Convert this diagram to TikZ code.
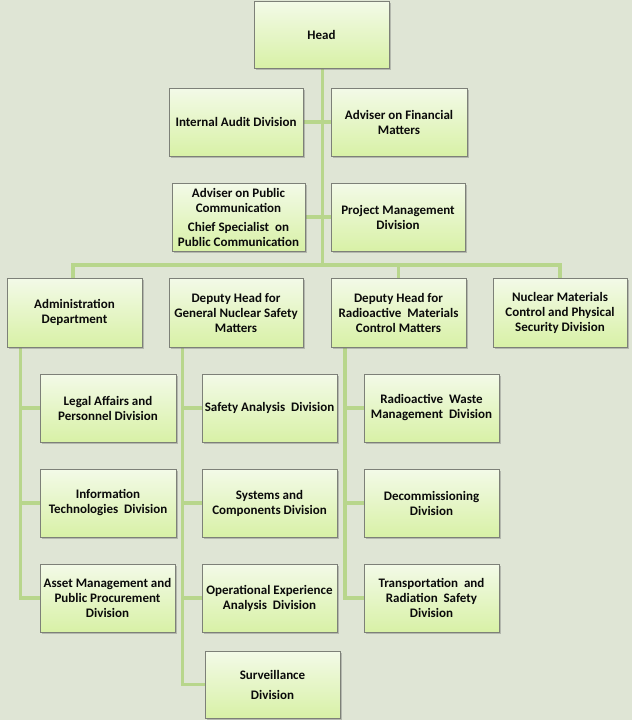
\documentclass[tikz,border=0pt]{standalone}
\usepackage{fontspec}
\setmainfont{Carlito}
\usetikzlibrary{shadows,backgrounds}
\definecolor{bgc}{RGB}{223,229,213}
\definecolor{linec}{RGB}{184,214,140}
\definecolor{boxtop}{RGB}{243,250,232}
\definecolor{boxbot}{RGB}{216,241,166}
\definecolor{boxborder}{RGB}{125,128,120}
\definecolor{txt}{RGB}{10,10,10}
\begin{document}
\begin{tikzpicture}[x=1pt,y=-1pt,
  orgbox/.style={draw=boxborder, line width=0.9pt, top color=boxtop, bottom color=boxbot,
    drop shadow={shadow xshift=1.5pt, shadow yshift=-1.5pt, opacity=0.35, fill=black!60},
    align=center, inner sep=1pt, text=txt,
    font=\fontsize{13}{15}\selectfont\bfseries, minimum height=68pt},
  w134/.style={minimum width=134pt},
  w135/.style={minimum width=135pt},
  w136/.style={minimum width=136pt},
  conn/.style={draw=linec, line width=3.2pt}]
\useasboundingbox (0,0) rectangle (632,720);
% boxes
\node[orgbox, w135, minimum height=67pt] (head) at (321.5,34.5) {Head};
\node[orgbox, w134] (ia) at (236,122) {Internal Audit Division};
\node[orgbox, w136] (af) at (399,122) {Adviser on Financial\\Matters};
\node[orgbox, minimum width=133pt] (ap) at (238.5,217) {Adviser on Public\\Communication\\[4pt]Chief Specialist~ on\\Public Communication};
\node[orgbox, w134] (pm) at (398,217) {Project Management\\Division};
\node[orgbox, w135, minimum height=69pt] (adm) at (74.5,312.5) {Administration\\Department};
\node[orgbox, w134, minimum height=69pt] (dg) at (236,312.5) {Deputy Head for\\General Nuclear Safety\\Matters};
\node[orgbox, w135, minimum height=69pt] (dr) at (398.5,312.5) {Deputy Head for\\Radioactive~ Materials\\Control Matters};
\node[orgbox, w134, minimum height=69pt] (nm) at (560,312.5) {Nuclear Materials\\Control and Physical\\Security Division};
\node[orgbox, w136] (lg) at (108,408) {Legal Affairs and\\Personnel Division};
\node[orgbox, w136] (it) at (108,503) {Information\\Technologies~ Division};
\node[orgbox, w135] (as) at (107.5,598) {Asset Management and\\Public Procurement\\Division};
\node[orgbox, w135] (sa) at (269.5,408) {Safety Analysis~ Division};
\node[orgbox, w135] (sc) at (269.5,503) {Systems and\\Components Division};
\node[orgbox, w135] (oe) at (269.5,598) {Operational Experience\\Analysis~ Division};
\node[orgbox, w135, minimum height=67pt] (sv) at (272.5,684.5) {Surveillance\\[5pt]Division};
\node[orgbox, w135] (rw) at (431.5,408) {Radioactive~ Waste\\Management~ Division};
\node[orgbox, w135] (dc) at (431.5,503) {Decommissioning\\Division};
\node[orgbox, w135] (tr) at (431.5,598) {Transportation~ and\\Radiation~ Safety\\Division};
% connector anchors
\coordinate (trunk) at (322.7,265);
\coordinate (av) at (20.7,347);
\coordinate (gv) at (182.3,347);
\coordinate (rv) at (345,347);
\begin{scope}[on background layer]
\fill[bgc] (0,0) rectangle (632,720);
\draw[conn] (head.south -| trunk) -- (trunk);
\draw[conn] (ia.east) -- (af.west);
\draw[conn] (ap.east) -- (ap.east -| pm.west);
\draw[conn] (adm.north -| 73,0) |- (trunk) -| (nm.north);
\draw[conn] (dg.north -| 235,0) -- (dg.north -| 235,0 |- trunk);
\draw[conn] (dr.north) -- (dr.north |- trunk);
% administration branch
\draw[conn] (av |- adm.south) |- (as.west);
\draw[conn] (av |- lg.west) -- (lg.west);
\draw[conn] (av |- it.west) -- (it.west);
% general nuclear safety branch
\draw[conn] (gv |- dg.south) |- (sv.west);
\draw[conn] (gv |- sa.west) -- (sa.west);
\draw[conn] (gv |- sc.west) -- (sc.west);
\draw[conn] (gv |- oe.west) -- (oe.west);
% radioactive branch
\draw[conn] (rv |- dr.south) |- (tr.west);
\draw[conn] (rv |- rw.west) -- (rw.west);
\draw[conn] (rv |- dc.west) -- (dc.west);
\end{scope}
\end{tikzpicture}
\end{document}
